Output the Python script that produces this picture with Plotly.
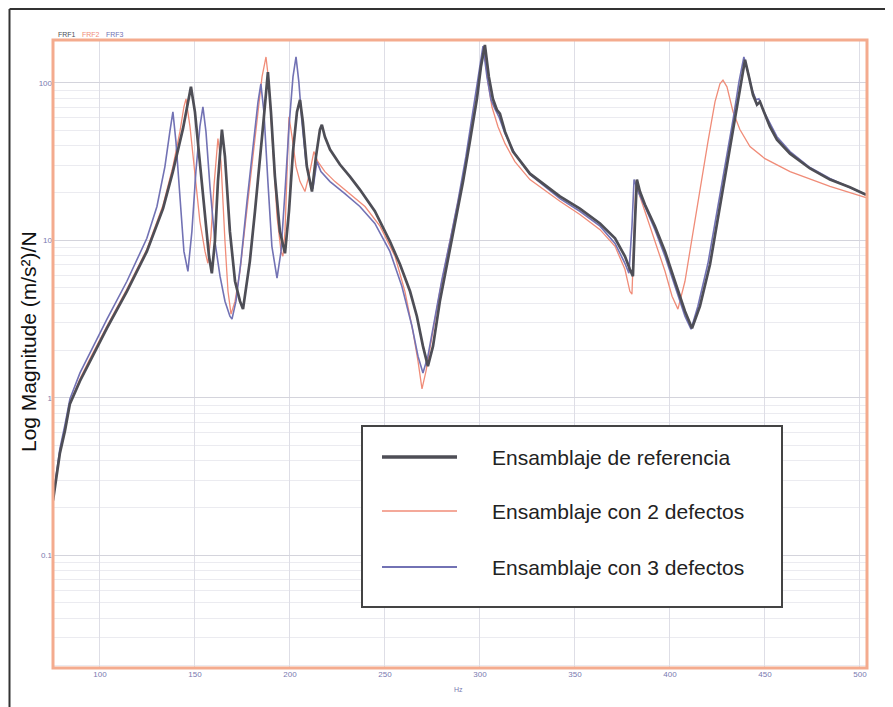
import plotly.graph_objects as go

# ---------------- data ----------------
freq_ref = [75.3, 76.8, 78.9, 81.6, 84.2, 89.5, 94.7, 103.7, 114.2, 124.7, 133.2, 138.4, 143.7, 146.3, 147.9,
            150.0, 152.6, 155.3, 157.4, 158.9, 160.5, 162.1, 164.2, 165.8, 168.4, 171.1, 173.7, 175.3, 178.9,
            181.6, 184.2, 186.3, 188.4, 190.0, 192.1, 194.7, 197.4, 199.5, 201.6, 203.7, 205.3, 206.8, 208.9,
            211.6, 213.7, 215.8, 216.8, 218.4, 221.1, 226.3, 231.6, 236.8, 244.7, 252.6, 257.9, 263.2, 266.8,
            270.0, 272.6, 275.3, 278.9, 282.6, 286.8, 291.1, 294.7, 298.4, 300.5, 302.6, 304.7, 306.8, 308.9,
            310.5, 313.2, 317.4, 326.3, 342.1, 352.6, 363.2, 371.1, 376.3, 378.9, 380.5, 381.6, 382.6, 384.2,
            386.8, 392.1, 397.4, 402.6, 407.9, 411.6, 415.8, 421.1, 426.3, 430.5, 434.2, 437.4, 439.5, 441.6,
            443.7, 445.8, 447.4, 449.5, 452.6, 456.3, 463.2, 473.7, 484.2, 494.7, 503.2]
mag_ref = [0.223, 0.298, 0.443, 0.618, 0.916, 1.28, 1.71, 2.77, 4.75, 8.51, 15.9, 27.3, 51.2, 75.8, 94.4,
           65.4, 31.6, 15.3, 7.92, 6.18, 9.86, 23.6, 50.5, 34.0, 11.4, 5.5, 4.11, 3.66, 7.36,
           15.3, 31.6, 60.9, 117, 65.4, 25.4, 11.4, 8.28, 15.3, 36.6, 65.4, 78.0, 56.6, 29.4,
           20.4, 34.0, 50.5, 54.2, 45.5, 37.7, 30.3, 25.4, 21.0, 15.3, 9.86, 7.05, 4.75, 3.30,
           2.13, 1.59, 2.13, 4.11, 7.05, 12.8, 23.6, 42.4, 79.2, 126, 174, 109, 79.2, 67.5,
           63.7, 49.0, 36.6, 26.5, 19.0, 15.9, 12.8, 10.3, 7.92, 6.55, 5.92, 13.2, 24.3, 20.4,
           16.9, 12.3, 8.51, 5.5, 3.55, 2.77, 3.82, 7.05, 16.4, 31.6, 56.6, 101, 140, 109,
           84.0, 72.6, 75.8, 65.4, 52.7, 43.6, 35.5, 28.6, 24.3, 21.7, 19.5]

freq_2def = [75.3, 76.8, 78.9, 81.6, 84.2, 89.5, 94.7, 103.7, 114.2, 124.7, 133.2, 138.4, 142.1, 144.2, 145.3,
             147.4, 150.0, 152.6, 155.3, 156.8, 158.4, 160.0, 162.1, 163.7, 165.8, 167.4, 169.0, 171.1, 173.7,
             176.8, 180.0, 183.2, 185.3, 187.4, 188.9, 191.1, 193.2, 195.3, 196.3, 197.4, 198.4, 199.5, 201.1,
             203.2, 205.3, 207.9, 210.5, 212.6, 214.7, 218.4, 223.7, 231.6, 239.5, 247.4, 255.3, 260.5, 264.7,
             267.4, 269.5, 271.6, 275.3, 278.9, 282.6, 286.8, 291.1, 294.7, 298.4, 300.5, 302.1, 304.2, 306.3,
             309.5, 313.2, 318.4, 326.3, 342.1, 352.6, 363.2, 371.1, 376.3, 378.9, 380.0, 381.1, 382.1, 384.2,
             386.8, 392.1, 397.4, 401.1, 404.2, 407.9, 412.1, 415.8, 420.0, 423.7, 426.3, 427.9, 430.0, 433.2,
             436.8, 442.1, 450.0, 463.2, 484.2, 503.2]
mag_2def = [0.24, 0.307, 0.45, 0.637, 0.93, 1.32, 1.77, 2.86, 4.90, 8.77, 16.7, 29.4, 49.0, 70.5, 79.2,
            52.7, 25.4, 13.2, 8.51, 7.15, 10.6, 22.0, 44.3, 31.6, 9.86, 4.75, 3.40, 4.11, 6.36,
            13.2, 29.4, 65.4, 109, 146, 101, 36.6, 14.2, 8.51, 7.92, 11.4, 27.3, 60.9, 45.5,
            29.4, 23.6, 20.4, 27.3, 36.6, 31.6, 27.3, 23.6, 19.8, 16.4, 12.3, 7.92, 4.75, 2.65,
            1.71, 1.14, 1.48, 2.65, 4.75, 7.92, 14.2, 25.4, 45.5, 84.0, 132, 169, 101, 70.5,
            52.7, 41.1, 31.6, 24.3, 17.7, 14.6, 11.7, 9.16, 6.55, 4.75, 4.55, 11.4, 23.6, 19.0,
            15.3, 9.86, 6.36, 4.42, 3.66, 5.50, 11.4, 20.4, 42.4, 75.8, 98.6, 104, 94.4, 65.4,
            50.5, 39.4, 33.0, 27.3, 22.0, 18.7]

freq_3def = [75.3, 76.8, 78.9, 81.6, 84.2, 89.5, 94.7, 103.7, 114.2, 124.7, 130.0, 134.2, 136.8, 138.4, 140.0,
             142.1, 144.2, 146.3, 148.4, 150.5, 152.6, 154.2, 155.8, 157.9, 160.5, 163.2, 165.8, 168.4, 169.5,
             171.6, 174.2, 177.4, 180.5, 183.2, 184.7, 186.3, 188.4, 190.5, 193.2, 195.3, 197.4, 199.5, 201.6,
             203.2, 204.7, 206.3, 208.4, 210.5, 212.1, 214.2, 216.3, 221.1, 228.9, 236.8, 244.7, 252.6, 258.9,
             264.2, 267.4, 270.0, 272.6, 276.3, 280.0, 284.2, 288.4, 292.6, 296.3, 299.5, 301.6, 303.7, 305.8,
             307.9, 310.0, 313.2, 318.4, 326.3, 342.1, 352.6, 363.2, 371.1, 376.3, 378.4, 380.0, 381.1, 383.2,
             386.8, 392.1, 397.4, 402.6, 407.9, 411.1, 414.7, 420.0, 425.3, 429.5, 433.2, 436.3, 438.9, 441.1,
             443.2, 445.3, 446.8, 448.9, 452.6, 456.3, 463.2, 473.7, 484.2, 494.7, 503.2]
mag_3def = [0.23, 0.316, 0.475, 0.675, 0.985, 1.44, 1.93, 3.16, 5.50, 10.3, 16.4, 29.4, 49.0, 65.4, 42.4,
            17.7, 8.51, 6.36, 11.4, 27.3, 52.7, 70.5, 49.0, 22.0, 9.86, 5.92, 4.11, 3.30, 3.16,
            4.11, 7.36, 17.7, 39.4, 75.8, 98.6, 65.4, 23.6, 9.16, 5.75, 8.51, 20.4, 52.7, 109,
            146, 101, 56.6, 31.6, 23.6, 21.3, 31.6, 27.3, 23.6, 19.8, 16.4, 12.8, 8.51, 5.11,
            2.86, 1.84, 1.44, 1.84, 3.30, 5.66, 9.86, 17.7, 34.0, 65.4, 117, 171, 109, 78.0,
            68.4, 60.9, 47.5, 35.5, 26.2, 18.4, 15.3, 12.3, 9.57, 7.15, 6.18, 12.3, 24.3, 20.4,
            16.4, 11.7, 7.92, 5.11, 3.30, 2.73, 3.82, 7.15, 16.4, 31.6, 58.3, 101, 146, 117,
            90.3, 78.0, 79.2, 67.5, 55.0, 45.5, 36.6, 29.0, 24.7, 21.7, 19.5]

series_names = ["Ensamblaje de referencia", "Ensamblaje con 2 defectos", "Ensamblaje con 3 defectos"]
x_tick_vals = [100, 150, 200, 250, 300, 350, 400, 450, 500]
y_tick_vals = [0.1, 1, 10, 100]
y_tick_text = ["0.1", "1", "10", "100"]

# ---------------- styling ----------------
C_REF = "#4e4e56"
C_2 = "#f08c78"
C_3 = "#7272b4"
FRAME = "#f4ab8e"
FONT = "Liberation Sans, Arial, sans-serif"

# the page body has an 8px margin; the figure is sized so it still fills the 893x707 window
BODY = 8
W, H = 893 - BODY, 707 - BODY
ML, MR, MT, MB = 53 - BODY, 26, 40 - BODY, 39
PW, PH = W - ML - MR, H - MT - MB


def px(xp):
    """window x-pixel -> paper fraction"""
    return (xp - BODY - ML) / PW


def py(yp):
    """window y-pixel -> paper fraction"""
    return (H - MB - (yp - BODY)) / PH


minor_vals = [d * k for d in (0.01, 0.1, 1, 10, 100) for k in range(2, 10)]

fig = go.Figure()
fig.add_trace(go.Scatter(x=freq_2def, y=mag_2def, mode="lines", name=series_names[1],
                         line=dict(color=C_2, width=1.3), showlegend=False))
fig.add_trace(go.Scatter(x=freq_3def, y=mag_3def, mode="lines", name=series_names[2],
                         line=dict(color=C_3, width=1.6), showlegend=False))
fig.add_trace(go.Scatter(x=freq_ref, y=mag_ref, mode="lines", name=series_names[0],
                         line=dict(color=C_REF, width=2.7), showlegend=False))

shapes = []
annotations = []

# plot frame (orange)
shapes.append(dict(type="rect", xref="paper", yref="paper", x0=0, x1=1, y0=0, y1=1,
                   line=dict(color=FRAME, width=3), layer="above"))
# outer black border (left, top, right)
for (xa, ya, xb, yb) in [(9.5, 9, 9.5, 707), (9.5, 9, 886, 9), (886, 9, 886, 707)]:
    shapes.append(dict(type="line", xref="paper", yref="paper", x0=px(xa), y0=py(ya), x1=px(xb), y1=py(yb),
                       line=dict(color="#333333", width=2)))

# custom legend box
shapes.append(dict(type="rect", xref="paper", yref="paper", x0=px(362), x1=px(782), y0=py(607), y1=py(426),
                   line=dict(color="#444444", width=2), fillcolor="white", layer="above"))
legend_rows = [457, 511, 567]
legend_cols = [C_REF, C_2, C_3]
legend_w = [3.5, 1.5, 1.8]
for name, yy, col, lw in zip(series_names, legend_rows, legend_cols, legend_w):
    shapes.append(dict(type="line", xref="paper", yref="paper", x0=px(382), x1=px(457), y0=py(yy), y1=py(yy),
                       line=dict(color=col, width=lw), layer="above"))
    annotations.append(dict(xref="paper", yref="paper", x=px(490), y=py(yy), xanchor="left", yanchor="middle",
                            text=name, showarrow=False, font=dict(family=FONT, size=21, color="#222222")))

# y-axis title
annotations.append(dict(xref="paper", yref="paper", x=px(28), y=py(342), xanchor="center", yanchor="middle",
                        text="Log Magnitude (m/s²)/N", textangle=-90, showarrow=False,
                        font=dict(family=FONT, size=21, color="#111111")))
# tiny top-left trace labels
for lbl, xx, col in [("FRF1", 56, C_REF), ("FRF2", 80, C_2), ("FRF3", 104, C_3)]:
    annotations.append(dict(xref="paper", yref="paper", x=px(xx), y=py(35), xanchor="left", yanchor="middle",
                            text=lbl, showarrow=False, font=dict(family=FONT, size=7, color=col)))
# Hz label
annotations.append(dict(xref="paper", yref="paper", x=px(458), y=py(689), xanchor="center", yanchor="middle",
                        text="Hz", showarrow=False, font=dict(family=FONT, size=7, color="#7a7ab0")))

fig.update_layout(
    width=W, height=H,
    margin=dict(l=ML, r=MR, t=MT, b=MB),
    paper_bgcolor="white",
    plot_bgcolor="white",
    shapes=shapes,
    annotations=annotations,
    showlegend=False,
    font=dict(family=FONT),
)
fig.update_xaxes(range=[75.3, 503.7], tickvals=x_tick_vals, showgrid=True, gridcolor="#dedee6", gridwidth=1,
                 zeroline=False, showline=False, ticks="",
                 tickfont=dict(size=8, color="#7a7ab0", family=FONT))
fig.update_yaxes(type="log", range=[-1.715, 2.272], tickvals=y_tick_vals, ticktext=y_tick_text,
                 showgrid=True, gridcolor="#d4d4dc", gridwidth=1, zeroline=False, showline=False, ticks="",
                 tickfont=dict(size=8, color="#7a7ab0", family=FONT),
                 minor=dict(tickvals=minor_vals, showgrid=True, gridcolor="#ebebf0", gridwidth=1, ticks=""))

fig.write_html("out.html")
